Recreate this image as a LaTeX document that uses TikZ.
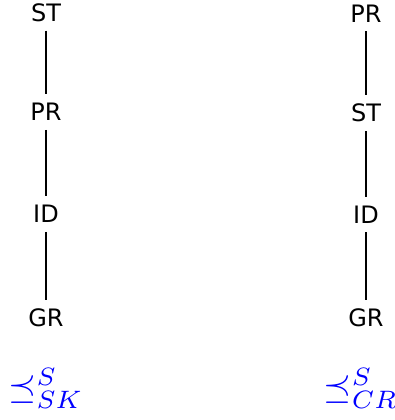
\documentclass[tikz,border=0pt]{standalone}
\usepackage{graphicx}
\usepackage{fontspec}
\setsansfont{DejaVu Sans}
\begin{document}
\begin{tikzpicture}[x=0.5pt,y=-0.5pt,
  lbl/.style={font=\fontsize{12}{14}\sffamily, inner sep=0pt, outer sep=0pt},
  rel/.style={text=blue, inner sep=0pt},
  edge/.style={draw=black, line width=0.6pt, shorten >=4.5pt, shorten <=4.5pt}]
\useasboundingbox (0,0) rectangle (395,420);
% left column
\node[lbl] (lst) at (46,12.5) {ST};
\node[lbl] (lpr) at (46,112) {PR};
\node[lbl] (lid) at (46,214) {ID};
\node[lbl] (lgr) at (46,318) {GR};
\draw[edge] (lst) -- (lpr);
\draw[edge] (lpr) -- (lid);
\draw[edge] (lid) -- (lgr);
% right column
\node[lbl] (rpr) at (366,13.5) {PR};
\node[lbl] (rst) at (366,113) {ST};
\node[lbl] (rid) at (366,214.5) {ID};
\node[lbl] (rgr) at (366,318) {GR};
\draw[edge] (rpr) -- (rst);
\draw[edge] (rst) -- (rid);
\draw[edge] (rid) -- (rgr);
% relation labels
\node[rel] (lrel) at (46,388) {\scalebox{1.8}{$\preceq^{S}_{SK}$}};
\node[rel] (rrel) at (361,388) {\scalebox{1.8}{$\preceq^{S}_{CR}$}};
\end{tikzpicture}
\end{document}
